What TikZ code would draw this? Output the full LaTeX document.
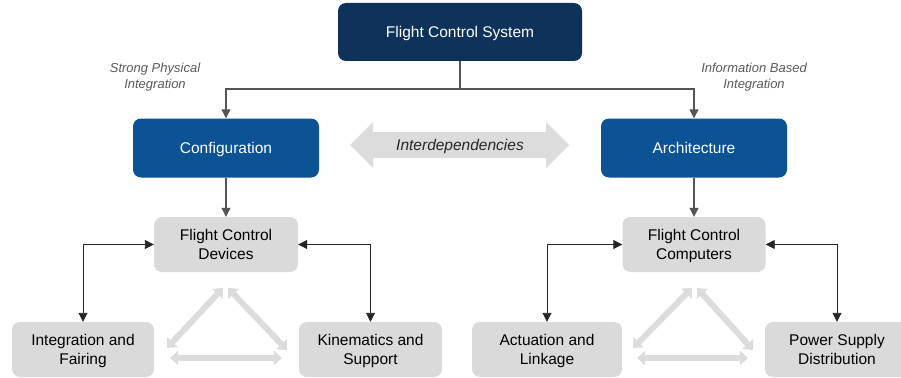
\documentclass[tikz,border=0pt]{standalone}
\usepackage{fontspec}
\setmainfont{Liberation Sans}
\usetikzlibrary{arrows.meta}
\definecolor{navy}{HTML}{0E3259}
\definecolor{blu}{HTML}{0B5394}
\definecolor{boxgray}{HTML}{DADADA}
\definecolor{trigray}{HTML}{DCDCDC}
\definecolor{labgray}{HTML}{595959}
\definecolor{linegray}{HTML}{555555}
\begin{document}
\begin{tikzpicture}[x=1pt,y=-1pt,
  basebox/.style={rounded corners=8pt, inner sep=0pt, align=center,
    text depth=0pt, font=\fontsize{15.5}{18.5}\selectfont},
  navybox/.style={basebox, fill=navy, text=white, minimum width=244pt, minimum height=58pt},
  bluebox/.style={basebox, fill=blu, text=white, minimum width=186pt, minimum height=59pt},
  graybox/.style={basebox, fill=boxgray, text=black, minimum height=55pt},
  sidelabel/.style={align=center, text=labgray, font=\fontsize{13}{16}\selectfont\itshape},
  conn/.style={draw=linegray, line width=1.1pt, -{Triangle[length=9pt,width=9pt]}},
  dconn/.style={draw=black!85, line width=0.9pt, {Triangle[length=9pt,width=9pt]}-{Triangle[length=9pt,width=9pt]}},
  triarrow/.style={draw=trigray, line width=6pt, {Triangle[length=8pt,width=14pt]}-{Triangle[length=8pt,width=14pt]}}
]
\useasboundingbox (0,0) rectangle (901,377);

% top
\node[navybox] (fcs) at (460,32) {Flight Control System};
\node[bluebox] (config) at (226,148) {Configuration};
\node[bluebox] (arch) at (694,148) {Architecture};
\coordinate (split) at (460,89);
\draw[draw=linegray, line width=1.1pt] (fcs.south) -- (split);
\draw[conn] (split) -| (config.north);
\draw[conn] (split) -| (arch.north);

\node[sidelabel] (spi) at (155,77) {Strong Physical\\Integration};
\node[sidelabel] (ibi) at (754,77) {Information Based\\Integration};

% interdependencies
\fill[trigray] (350,145) -- (373,122) -- (373,132) -- (546,132) -- (546,122)
  -- (569,145) -- (546,168) -- (546,158) -- (373,158) -- (373,168) -- cycle;
\node[text=black!85, inner sep=0pt, text depth=0pt,
  font=\fontsize{15.5}{18}\selectfont\itshape] (inter) at (460,145) {Interdependencies};

% left group
\node[graybox, minimum width=144pt] (fcd) at (226,244.5) {Flight Control\\Devices};
\node[graybox, minimum width=142pt] (intf) at (83,349.5) {Integration and\\Fairing};
\node[graybox, minimum width=143pt] (kin) at (370.5,349.5) {Kinematics and\\Support};
\draw[conn] (config.south) -- (fcd.north);
\draw[dconn] (fcd.west) -| (intf.north);
\draw[dconn] (fcd.east) -| (kin.north);

\coordinate (la1) at (167,348); \coordinate (la2) at (223,288);
\coordinate (lb1) at (228,288); \coordinate (lb2) at (287,350);
\coordinate (lc1) at (170,358); \coordinate (lc2) at (282,358);
\draw[triarrow] (la1) -- (la2);
\draw[triarrow] (lb1) -- (lb2);
\draw[triarrow] (lc1) -- (lc2);

% right group
\node[graybox, minimum width=143pt] (fcc) at (694,244.5) {Flight Control\\Computers};
\node[graybox, minimum width=150pt] (act) at (547,349.5) {Actuation and\\Linkage};
\node[graybox, minimum width=144pt] (psd) at (837,349.5) {Power Supply\\Distribution};
\draw[conn] (arch.south) -- (fcc.north);
\draw[dconn] (fcc.west) -| (act.north);
\draw[dconn] (fcc.east) -| (psd.north);

\coordinate (ra1) at (633,348); \coordinate (ra2) at (692,288);
\coordinate (rb1) at (697,288); \coordinate (rb2) at (753,350);
\coordinate (rc1) at (637,358); \coordinate (rc2) at (748,358);
\draw[triarrow] (ra1) -- (ra2);
\draw[triarrow] (rb1) -- (rb2);
\draw[triarrow] (rc1) -- (rc2);
\end{tikzpicture}
\end{document}
